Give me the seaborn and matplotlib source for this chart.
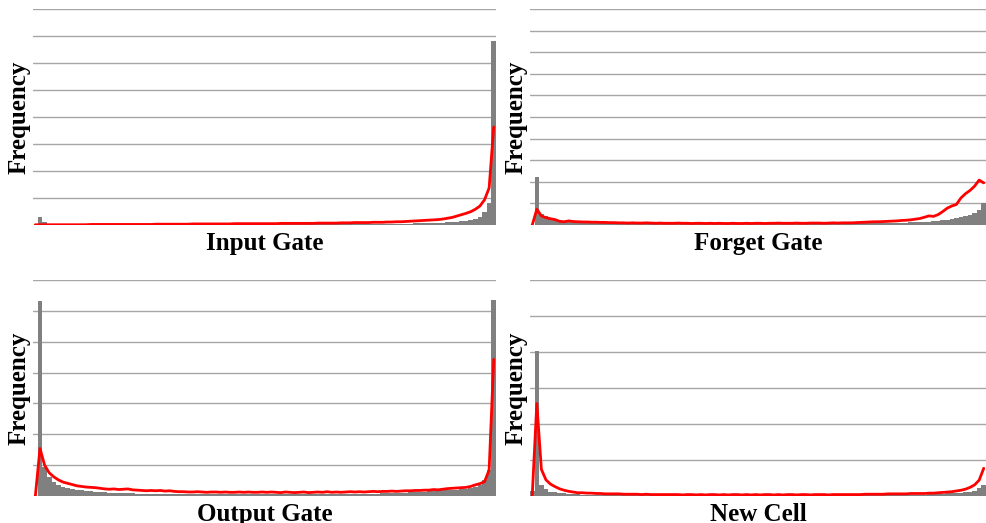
import numpy as np
import seaborn as sns
import matplotlib.pyplot as plt

# histogram of activations per gate (100 bins), gray bars + red curve
bins = list(range(100))

ig_bars = [0.00, 0.30, 0.10, 0.05, 0.04, 0.05, 0.03, 0.03, 0.02, 0.02,
           0.02, 0.02, 0.02, 0.02, 0.02, 0.02, 0.02, 0.02, 0.02, 0.02,
           0.02, 0.02, 0.02, 0.02, 0.02, 0.02, 0.02, 0.02, 0.02, 0.02,
           0.02, 0.02, 0.02, 0.02, 0.02, 0.02, 0.02, 0.02, 0.02, 0.02,
           0.02, 0.02, 0.02, 0.02, 0.03, 0.03, 0.03, 0.03, 0.03, 0.03,
           0.03, 0.03, 0.03, 0.03, 0.03, 0.03, 0.03, 0.03, 0.03, 0.03,
           0.03, 0.03, 0.03, 0.03, 0.03, 0.03, 0.04, 0.04, 0.04, 0.04,
           0.04, 0.04, 0.04, 0.04, 0.05, 0.05, 0.05, 0.05, 0.05, 0.05,
           0.05, 0.05, 0.06, 0.06, 0.06, 0.07, 0.07, 0.08, 0.09, 0.10,
           0.11, 0.12, 0.13, 0.15, 0.17, 0.22, 0.31, 0.49, 0.80, 6.80]
ig_line = [0.01, 0.01, 0.01, 0.01, 0.01, 0.01, 0.01, 0.01, 0.01, 0.01,
           0.01, 0.01, 0.02, 0.02, 0.02, 0.02, 0.02, 0.02, 0.02, 0.02,
           0.02, 0.02, 0.02, 0.02, 0.02, 0.02, 0.03, 0.03, 0.03, 0.03,
           0.03, 0.03, 0.03, 0.03, 0.04, 0.04, 0.04, 0.04, 0.04, 0.04,
           0.04, 0.04, 0.04, 0.05, 0.05, 0.05, 0.05, 0.05, 0.05, 0.05,
           0.05, 0.05, 0.05, 0.06, 0.06, 0.06, 0.06, 0.06, 0.06, 0.06,
           0.06, 0.07, 0.07, 0.07, 0.07, 0.07, 0.08, 0.08, 0.08, 0.09,
           0.09, 0.09, 0.09, 0.10, 0.10, 0.10, 0.11, 0.11, 0.12, 0.12,
           0.13, 0.14, 0.15, 0.16, 0.17, 0.18, 0.19, 0.20, 0.22, 0.25,
           0.28, 0.33, 0.38, 0.43, 0.49, 0.58, 0.70, 0.93, 1.37, 3.63]

fg_bars = [0.00, 2.24, 0.50, 0.40, 0.33, 0.27, 0.22, 0.18, 0.15, 0.13,
           0.12, 0.11, 0.10, 0.10, 0.09, 0.09, 0.08, 0.08, 0.08, 0.07,
           0.07, 0.07, 0.07, 0.07, 0.06, 0.06, 0.06, 0.06, 0.06, 0.06,
           0.06, 0.06, 0.06, 0.06, 0.06, 0.06, 0.06, 0.06, 0.06, 0.06,
           0.06, 0.06, 0.06, 0.06, 0.06, 0.06, 0.06, 0.06, 0.06, 0.06,
           0.06, 0.06, 0.06, 0.06, 0.06, 0.06, 0.06, 0.06, 0.06, 0.06,
           0.06, 0.06, 0.06, 0.06, 0.06, 0.06, 0.07, 0.07, 0.07, 0.07,
           0.07, 0.07, 0.08, 0.08, 0.08, 0.09, 0.09, 0.09, 0.10, 0.10,
           0.10, 0.11, 0.11, 0.12, 0.13, 0.14, 0.15, 0.16, 0.18, 0.20,
           0.22, 0.25, 0.28, 0.31, 0.35, 0.40, 0.47, 0.55, 0.68, 1.00]
fg_line = [0.00, 0.73, 0.42, 0.34, 0.29, 0.25, 0.17, 0.15, 0.19, 0.16,
           0.15, 0.14, 0.14, 0.13, 0.13, 0.12, 0.12, 0.11, 0.11, 0.10,
           0.10, 0.09, 0.10, 0.09, 0.09, 0.10, 0.09, 0.08, 0.09, 0.08,
           0.08, 0.08, 0.09, 0.08, 0.08, 0.07, 0.08, 0.08, 0.07, 0.08,
           0.07, 0.08, 0.07, 0.07, 0.08, 0.07, 0.07, 0.08, 0.07, 0.08,
           0.08, 0.07, 0.08, 0.08, 0.09, 0.08, 0.08, 0.08, 0.09, 0.08,
           0.08, 0.09, 0.09, 0.09, 0.08, 0.09, 0.10, 0.09, 0.10, 0.10,
           0.10, 0.11, 0.12, 0.13, 0.14, 0.15, 0.15, 0.16, 0.17, 0.18,
           0.19, 0.21, 0.22, 0.24, 0.27, 0.30, 0.36, 0.42, 0.40, 0.48,
           0.62, 0.78, 0.88, 0.95, 1.25, 1.45, 1.60, 1.80, 2.08, 1.95]

og_bars = [0.00, 6.31, 0.95, 0.62, 0.46, 0.36, 0.30, 0.25, 0.22, 0.20,
           0.18, 0.16, 0.15, 0.14, 0.13, 0.12, 0.11, 0.11, 0.10, 0.10,
           0.09, 0.09, 0.08, 0.08, 0.08, 0.08, 0.07, 0.07, 0.07, 0.07,
           0.07, 0.07, 0.06, 0.06, 0.06, 0.06, 0.06, 0.06, 0.06, 0.06,
           0.06, 0.06, 0.06, 0.06, 0.06, 0.06, 0.06, 0.06, 0.06, 0.06,
           0.06, 0.06, 0.06, 0.06, 0.06, 0.06, 0.06, 0.06, 0.06, 0.06,
           0.06, 0.06, 0.06, 0.06, 0.06, 0.07, 0.07, 0.07, 0.07, 0.07,
           0.07, 0.07, 0.08, 0.08, 0.08, 0.09, 0.09, 0.10, 0.10, 0.11,
           0.11, 0.12, 0.12, 0.13, 0.14, 0.15, 0.16, 0.17, 0.18, 0.19,
           0.20, 0.21, 0.22, 0.24, 0.26, 0.30, 0.36, 0.52, 0.84, 6.34]
og_line = [0.00, 1.54, 1.00, 0.75, 0.62, 0.52, 0.45, 0.41, 0.37, 0.33,
           0.31, 0.29, 0.28, 0.27, 0.25, 0.23, 0.22, 0.23, 0.21, 0.22,
           0.23, 0.20, 0.19, 0.18, 0.17, 0.18, 0.17, 0.18, 0.16, 0.17,
           0.15, 0.14, 0.14, 0.13, 0.13, 0.14, 0.13, 0.12, 0.13, 0.13,
           0.12, 0.13, 0.12, 0.12, 0.13, 0.12, 0.13, 0.12, 0.12, 0.13,
           0.12, 0.13, 0.12, 0.11, 0.13, 0.12, 0.11, 0.12, 0.13, 0.11,
           0.12, 0.13, 0.12, 0.14, 0.12, 0.13, 0.12, 0.13, 0.14, 0.13,
           0.14, 0.13, 0.14, 0.15, 0.14, 0.15, 0.15, 0.16, 0.15, 0.16,
           0.17, 0.17, 0.18, 0.18, 0.19, 0.19, 0.21, 0.20, 0.22, 0.24,
           0.25, 0.26, 0.27, 0.28, 0.31, 0.36, 0.40, 0.46, 0.84, 4.43]

nc_bars = [0.15, 4.03, 0.30, 0.19, 0.12, 0.10, 0.08, 0.07, 0.06, 0.05,
           0.05, 0.04, 0.04, 0.04, 0.03, 0.03, 0.03, 0.03, 0.03, 0.03,
           0.03, 0.03, 0.03, 0.03, 0.02, 0.02, 0.02, 0.02, 0.02, 0.02,
           0.02, 0.02, 0.02, 0.02, 0.02, 0.02, 0.02, 0.02, 0.02, 0.02,
           0.02, 0.02, 0.02, 0.02, 0.02, 0.02, 0.02, 0.02, 0.02, 0.02,
           0.02, 0.02, 0.02, 0.02, 0.02, 0.02, 0.02, 0.02, 0.02, 0.02,
           0.02, 0.02, 0.02, 0.02, 0.02, 0.02, 0.02, 0.02, 0.02, 0.02,
           0.02, 0.02, 0.02, 0.03, 0.03, 0.03, 0.03, 0.03, 0.03, 0.03,
           0.03, 0.03, 0.03, 0.04, 0.04, 0.04, 0.04, 0.05, 0.05, 0.06,
           0.06, 0.07, 0.07, 0.08, 0.09, 0.10, 0.12, 0.15, 0.21, 0.30]
nc_line = [0.02, 2.57, 0.74, 0.45, 0.33, 0.26, 0.20, 0.16, 0.13, 0.11,
           0.09, 0.09, 0.08, 0.08, 0.07, 0.07, 0.06, 0.06, 0.06, 0.06,
           0.05, 0.05, 0.05, 0.05, 0.04, 0.05, 0.04, 0.04, 0.04, 0.04,
           0.04, 0.04, 0.04, 0.03, 0.04, 0.04, 0.03, 0.04, 0.03, 0.04,
           0.04, 0.03, 0.04, 0.03, 0.04, 0.04, 0.03, 0.04, 0.03, 0.04,
           0.03, 0.04, 0.04, 0.03, 0.04, 0.03, 0.04, 0.04, 0.03, 0.04,
           0.04, 0.03, 0.04, 0.04, 0.04, 0.03, 0.04, 0.04, 0.04, 0.04,
           0.04, 0.04, 0.04, 0.05, 0.05, 0.05, 0.05, 0.05, 0.06, 0.06,
           0.06, 0.06, 0.06, 0.07, 0.07, 0.07, 0.07, 0.08, 0.08, 0.09,
           0.10, 0.11, 0.12, 0.14, 0.16, 0.19, 0.24, 0.31, 0.44, 0.77]

panel_names = ["Input Gate", "Forget Gate", "Output Gate", "New Cell"]
panel_bars = [ig_bars, fg_bars, og_bars, nc_bars]
panel_lines = [ig_line, fg_line, og_line, nc_line]
panel_ymax = [8, 10, 7, 6]

sns.set_style("white")
plt.rcParams['font.family'] = ['Liberation Serif', 'DejaVu Serif']

fig = plt.figure(figsize=(9.86, 5.23), dpi=100)
rects = [[0.0335, 0.5698, 0.4696, 0.413],
         [0.5375, 0.5698, 0.4625, 0.413],
         [0.0335, 0.0516, 0.4696, 0.413],
         [0.5375, 0.0516, 0.4625, 0.413]]

for rect, name, bars, line, ymax in zip(rects, panel_names, panel_bars, panel_lines, panel_ymax):
    ax = fig.add_axes(rect)
    sns.barplot(x=bins, y=bars, color="#808080", width=1.0, saturation=1,
                linewidth=0, errorbar=None, ax=ax, zorder=2)
    sns.lineplot(x=bins, y=line, color="#ff0000", linewidth=2.0, ax=ax, zorder=3)
    ax.set_xlim(-0.5, 99.5)
    ax.set_ylim(0, ymax)
    ax.set_yticks(np.arange(0, ymax + 1))
    ax.set_xticks([])
    ax.set_yticklabels([])
    ax.tick_params(length=0)
    ax.yaxis.grid(True, color="#a6a6a6", linewidth=1.0, zorder=0)
    ax.set_axisbelow(True)
    sns.despine(ax=ax, left=True, bottom=True)
    ax.set_ylabel("Frequency", fontsize=18, fontweight="bold", color="black", labelpad=-2)
    ax.set_xlabel(name, fontsize=18, fontweight="bold", color="black", labelpad=5)

fig.savefig("out.png", dpi=100)
